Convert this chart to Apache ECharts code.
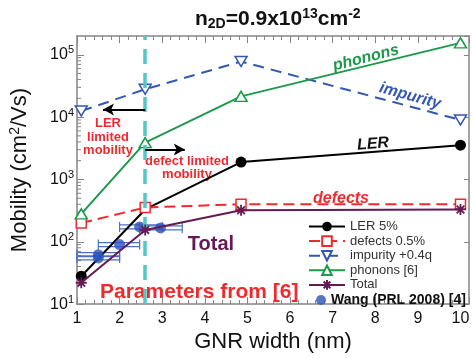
<!DOCTYPE html>
<html>
<head>
<meta charset="utf-8">
<script src="https://cdn.jsdelivr.net/npm/echarts@6/dist/echarts.min.js"></script>
<style>
  html, body { margin: 0; padding: 0; background: #fff; }
  #chart { width: 473px; height: 358px; }
</style>
</head>
<body>
<div id="chart"></div>
<script>
// GNR width (nm)
var widths = [1.1, 2.6, 4.85, 10];
// mobility (cm^2/Vs)
var lerVals = [28, 330, 1900, 3550];
var defectVals = [200, 355, 400, 400];
var impurityVals = [12500, 28000, 78000, 9000];
var phononVals = [280, 3900, 21500, 155000];
var totalVals = [22, 155, 320, 330];
// Wang (PRL 2008): width, mobility, width low, width high
var wangW = [1.5, 1.5, 2.0, 2.47, 2.96];
var wangMu = [62, 55, 90, 173, 167];
var wangLo = [1.0, 1.0, 1.5, 2.0, 2.47];
var wangHi = [2.0, 2.0, 2.47, 3.0, 3.47];
var splitWidth = 2.6;
// y minor tick values (log decades)
var yMinorTicks = [];
[10, 100, 1000, 10000, 100000].forEach(function (d) {
    for (var k = 2; k <= 9; k++) {
        if (k * d < 200000) yMinorTicks.push(k * d);
    }
});

var font = '"Liberation Sans", Arial, sans-serif';
var red = '#ee2a2e', blue = '#3258b2', green = '#1c9a4a', purple = '#651a55', cyan = '#52c7c4';
var axisGray = '#858585';

function pairs(xs, ys) {
    return xs.map(function (x, i) { return [x, ys[i]]; });
}

var chart = echarts.init(document.getElementById('chart'));

var lerData = pairs(widths, lerVals);
lerData[1] = { value: lerData[1], symbol: 'none' }; // hidden under the defect square

var option = {
    animation: false,
    textStyle: { fontFamily: font },
    title: {
        text: 'n{sub|2D}=0.9x10{sup|13}cm{sup|-2}',
        left: 190,
        top: 2,
        textStyle: {
            fontSize: 21,
            fontWeight: 'bold',
            color: '#111',
            rich: {
                sub: { fontSize: 14, fontWeight: 'bold', color: '#111', padding: [10, 0, 0, 0] },
                sup: { fontSize: 14, fontWeight: 'bold', color: '#111', padding: [0, 0, 10, 0] }
            }
        }
    },
    grid: { left: 77, right: 4, top: 36, bottom: 47 },
    legend: [
        {
            data: ['LER 5%', 'defects 0.5%', 'impurity +0.4q', 'phonons [6]', 'Total'],
            orient: 'vertical',
            left: 308,
            top: 220,
            itemWidth: 36,
            itemHeight: 12,
            itemGap: 1.6,
            padding: 0,
            textStyle: { fontSize: 13, color: '#333', fontFamily: font }
        },
        {
            data: ['Wang (PRL 2008) [4]'],
            left: 316,
            top: 293,
            itemWidth: 10,
            itemHeight: 10,
            itemGap: 5,
            padding: 0,
            textStyle: { fontSize: 14, fontWeight: 'bold', color: '#111', fontFamily: font }
        }
    ],
    xAxis: [
        {
            type: 'value',
            min: 1,
            max: 10.2,
            interval: 1,
            name: 'GNR width (nm)',
            nameLocation: 'middle',
            nameGap: 20,
            nameTextStyle: { fontSize: 22, color: '#111' },
            axisLine: { lineStyle: { color: axisGray, width: 1.5 } },
            axisTick: { inside: true, length: 7, lineStyle: { color: axisGray } },
            minorTick: { show: true, splitNumber: 5, length: 4, lineStyle: { color: axisGray } },
            axisLabel: { fontSize: 16, color: '#111', margin: 6, showMaxLabel: false },
            splitLine: { show: false }
        },
        {
            type: 'value',
            position: 'top',
            min: 1,
            max: 10.2,
            interval: 1,
            axisLine: { lineStyle: { color: axisGray, width: 1.5 } },
            axisTick: { inside: true, length: 7, lineStyle: { color: axisGray } },
            minorTick: { show: true, splitNumber: 5, length: 4, lineStyle: { color: axisGray } },
            axisLabel: { show: false },
            splitLine: { show: false }
        }
    ],
    yAxis: [
        {
            type: 'log',
            logBase: 10,
            min: 10,
            max: 200000,
            name: 'Mobility (cm{sup|2}/Vs)',
            nameLocation: 'middle',
            nameGap: 45,
            nameTextStyle: {
                fontSize: 22,
                color: '#111',
                rich: { sup: { fontSize: 14, color: '#111', padding: [0, 0, 10, 0] } }
            },
            axisLine: { lineStyle: { color: axisGray, width: 1.5 } },
            axisTick: { inside: true, length: 7, lineStyle: { color: axisGray } },
            minorTick: { show: false },
            axisLabel: {
                fontSize: 16,
                color: '#111',
                margin: 3,
                showMaxLabel: false,
                formatter: function (v) {
                    return '10{s|' + Math.round(Math.log10(v)) + '}';
                },
                rich: { s: { fontSize: 11, color: '#111', padding: [0, 0, 9, 0] } }
            },
            splitLine: { show: false }
        },
        {
            type: 'log',
            logBase: 10,
            position: 'right',
            min: 10,
            max: 200000,
            axisLine: { lineStyle: { color: axisGray, width: 1.5 } },
            axisTick: { inside: true, length: 5, lineStyle: { color: axisGray } },
            minorTick: { show: false },
            axisLabel: { show: false },
            splitLine: { show: false }
        }
    ],
    graphic: [
        { type: 'text', x: 366, y: 58, rotation: 0.25, style: { text: 'phonons', font: 'italic bold 16px ' + font, fill: green, align: 'center', verticalAlign: 'middle' } },
        { type: 'text', x: 410, y: 96, rotation: -0.27, style: { text: 'impurity', font: 'italic bold 16px ' + font, fill: blue, align: 'center', verticalAlign: 'middle' } },
        { type: 'text', x: 373, y: 144, rotation: 0.08, style: { text: 'LER', font: 'italic bold 16px ' + font, fill: '#111', align: 'center', verticalAlign: 'middle' } },
        { type: 'text', x: 341, y: 199, style: { text: 'defects', font: 'italic bold 16px ' + font, fill: red, align: 'center', verticalAlign: 'middle' } },
        { type: 'text', x: 108, y: 137, style: { text: 'LER\nlimited\nmobility', font: 'bold 13px ' + font, lineHeight: 13.5, fill: red, align: 'center', verticalAlign: 'middle' } },
        { type: 'text', x: 187, y: 168, style: { text: 'defect limited\nmobility', font: 'bold 13px ' + font, lineHeight: 13, fill: red, align: 'center', verticalAlign: 'middle' } },
        { type: 'text', x: 211, y: 244, style: { text: 'Total', font: 'bold 20px ' + font, fill: purple, align: 'center', verticalAlign: 'middle' } },
        { type: 'text', x: 100, y: 292, style: { text: 'Parameters from [6]', font: 'bold 21px ' + font, fill: red, align: 'left', verticalAlign: 'middle' } }
    ],
    series: [
        {
            // log minor ticks on the left axis
            name: 'yMinor',
            type: 'custom',
            silent: true,
            data: yMinorTicks.map(function (v) { return [1, v]; }),
            renderItem: function (params, api) {
                var p = api.coord([api.value(0), api.value(1)]);
                return {
                    type: 'line',
                    shape: { x1: p[0], y1: p[1], x2: p[0] + 4, y2: p[1] },
                    style: { stroke: axisGray, lineWidth: 1 }
                };
            },
            z: 1
        },
        {
            name: 'guides',
            type: 'line',
            data: [],
            silent: true,
            markLine: {
                silent: true,
                animation: false,
                label: { show: false },
                symbol: ['none', 'none'],
                data: [
                    [
                        { coord: [splitWidth, 10], lineStyle: { color: cyan, width: 3.5, type: [15, 9] } },
                        { coord: [splitWidth, 200000] }
                    ],
                    [
                        { coord: [splitWidth, 13300], symbol: 'none', lineStyle: { color: '#000', width: 2, type: 'solid' } },
                        { coord: [1.61, 13300], symbol: 'arrow', symbolSize: [9, 11] }
                    ],
                    [
                        { coord: [splitWidth, 3020], symbol: 'none', lineStyle: { color: '#000', width: 2, type: 'solid' } },
                        { coord: [3.53, 3020], symbol: 'arrow', symbolSize: [9, 11] }
                    ]
                ]
            }
        },
        {
            name: 'Wang error',
            type: 'custom',
            data: wangW.map(function (w, i) { return [w, wangMu[i], wangLo[i], wangHi[i]]; }),
            renderItem: function (params, api) {
                var lo = api.coord([api.value(2), api.value(1)]);
                var hi = api.coord([api.value(3), api.value(1)]);
                var children = [];
                [-2, 2].forEach(function (d) {
                    children.push({
                        type: 'line',
                        shape: { x1: lo[0], y1: lo[1] + d, x2: hi[0], y2: hi[1] + d },
                        style: { stroke: '#4d6fc0', lineWidth: 1.2 }
                    });
                });
                [lo, hi].forEach(function (p) {
                    children.push({
                        type: 'line',
                        shape: { x1: p[0], y1: p[1] - 5, x2: p[0], y2: p[1] + 5 },
                        style: { stroke: '#4d6fc0', lineWidth: 1.2 }
                    });
                });
                return { type: 'group', children: children };
            },
            z: 2
        },
        {
            name: 'LER 5%',
            type: 'line',
            data: lerData,
            symbol: 'circle',
            symbolSize: 11,
            lineStyle: { color: '#000', width: 2 },
            itemStyle: { color: '#000' },
            z: 2
        },
        {
            name: 'defects 0.5%',
            type: 'line',
            data: pairs(widths, defectVals),
            symbol: 'rect',
            symbolSize: 10,
            lineStyle: { color: red, width: 2, type: [11, 6] },
            itemStyle: { color: '#fff', borderColor: red, borderWidth: 1.5 },
            z: 3
        },
        {
            name: 'impurity +0.4q',
            type: 'line',
            data: pairs(widths, impurityVals),
            symbol: 'triangle',
            symbolRotate: 180,
            symbolSize: [12, 10],
            lineStyle: { color: blue, width: 2, type: [11, 7] },
            itemStyle: { color: '#fff', borderColor: blue, borderWidth: 1.5 },
            z: 3
        },
        {
            name: 'phonons [6]',
            type: 'line',
            data: pairs(widths, phononVals),
            symbol: 'triangle',
            symbolSize: [12, 10],
            lineStyle: { color: green, width: 2 },
            itemStyle: { color: '#fff', borderColor: green, borderWidth: 1.5 },
            z: 3
        },
        {
            name: 'Wang (PRL 2008) [4]',
            type: 'scatter',
            data: pairs(wangW, wangMu),
            symbol: 'circle',
            symbolSize: 11,
            itemStyle: { color: '#2d55b8' },
            z: 4
        },
        {
            name: 'Total',
            type: 'line',
            data: pairs(widths, totalVals),
            symbol: 'path://M5,0L5,10M0,5L10,5M1.5,1.5L8.5,8.5M1.5,8.5L8.5,1.5',
            symbolSize: 11,
            lineStyle: { color: purple, width: 2 },
            itemStyle: { color: purple, borderColor: purple, borderWidth: 1.8 },
            z: 5
        }
    ]
};

chart.setOption(option);
</script>
</body>
</html>
